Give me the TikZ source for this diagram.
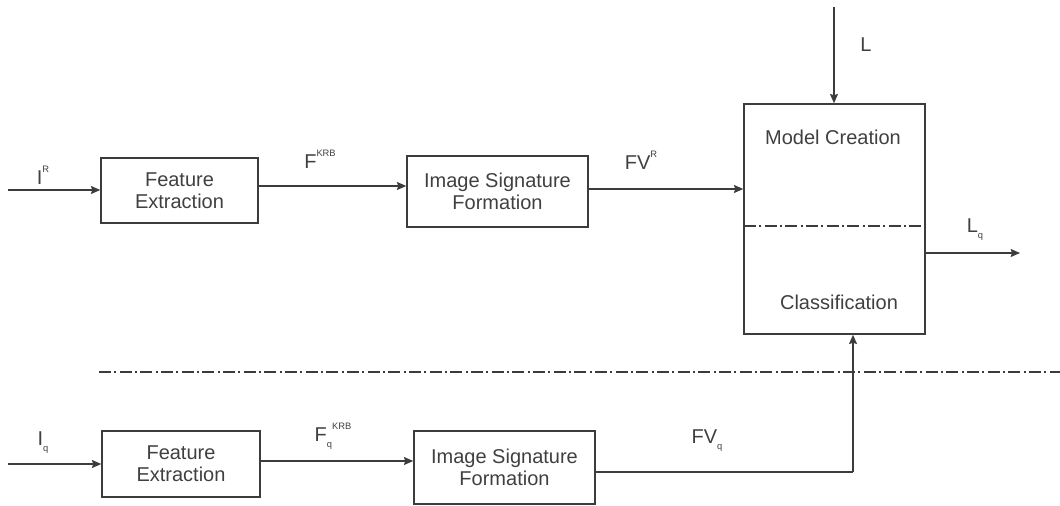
\documentclass[tikz,border=0pt]{standalone}
\usepackage{fontspec}
\setmainfont{Liberation Sans}
\usetikzlibrary{arrows.meta}
\definecolor{ln}{HTML}{3C3C3C}
\definecolor{tx}{HTML}{404040}
\newcommand{\mysup}[1]{\raisebox{0.62em}{\fontsize{7}{7}\selectfont #1}}
\newcommand{\mysub}[1]{\raisebox{-0.3em}{\fontsize{7}{7}\selectfont #1}}
\tikzset{
  blk/.style={draw=ln, line width=1.1pt, inner sep=0pt, text=tx, align=center,
    font=\fontsize{15}{16.5}\selectfont},
  lbl/.style={text=tx, inner sep=0pt, font=\fontsize{15}{16.5}\selectfont},
  conn/.style={draw=ln, line width=1.1pt, -{Stealth[length=7pt,width=6pt,inset=1pt]}},
  plain/.style={draw=ln, line width=1.1pt},
  dd/.style={draw=ln, line width=1.1pt, dash pattern=on 9pt off 2.5pt on 1.5pt off 2.5pt}
}
\begin{document}
\begin{tikzpicture}[x=0.75pt,y=-0.75pt]
\useasboundingbox (0,0) rectangle (1060,506);
% top row
\node[blk, minimum width=157*0.75pt, minimum height=65*0.75pt] (fe1) at (179.5,190.5) {Feature\\Extraction};
\node[blk, minimum width=181*0.75pt, minimum height=71*0.75pt] (isf1) at (497.5,191.5) {Image Signature\\Formation};
\node[draw=ln, line width=1.1pt, minimum width=181*0.75pt, minimum height=230*0.75pt, inner sep=0pt] (mc) at (834.5,219) {};
\node[lbl] (mctxt) at (833,137) {Model Creation};
\node[lbl] (cltxt) at (839,302) {Classification};
\coordinate (dl) at (744,226);
\coordinate (dr) at (925,226);
\draw[dd] (dl) -- (dr);
% bottom row
\node[blk, minimum width=158*0.75pt, minimum height=66*0.75pt] (fe2) at (181,464) {Feature\\Extraction};
\node[blk, minimum width=181*0.75pt, minimum height=73*0.75pt] (isf2) at (504.5,467.5) {Image Signature\\Formation};
% separator
\coordinate (s1) at (99,372);
\coordinate (s2) at (1060,372);
\draw[dd] (s1) -- (s2);
% inputs / outputs
\coordinate (ir) at (8,190);
\coordinate (iq) at (8,464);
\coordinate (ltop) at (834,7);
\coordinate (lqend) at (1020,253);
\coordinate (corner) at (853,472);
\draw[conn] (ir) -- (fe1.west |- ir);
\draw[conn] (fe1.east |- 0,186) -- (isf1.west |- 0,186);
\draw[conn] (isf1.east |- 0,189) -- (mc.west |- 0,189);
\draw[conn] (ltop) -- (mc.north -| ltop);
\draw[conn] (mc.east |- lqend) -- (lqend);
\draw[conn] (iq) -- (fe2.west |- iq);
\draw[conn] (fe2.east |- 0,461) -- (isf2.west |- 0,461);
\draw[plain] (isf2.east |- corner) -- (corner);
\draw[conn] (corner) -- (mc.south -| corner);
% labels
\node[lbl] (lir) at (43,175) {I\mysup{R}};
\node[lbl] (lfk) at (320,159) {F\mysup{KRB}};
\node[lbl] (lfv) at (641,160) {FV\mysup{R}};
\node[lbl] (ll) at (866,45) {L};
\node[lbl] (llq) at (975,230) {L\mysub{q}};
\node[lbl] (liq) at (43,443) {I\mysub{q}};
\node[lbl] (lfq) at (333,436) {F\mysub{q}\mysup{KRB}};
\node[lbl] (lfvq) at (707,441) {FV\mysub{q}};
\end{tikzpicture}
\end{document}
